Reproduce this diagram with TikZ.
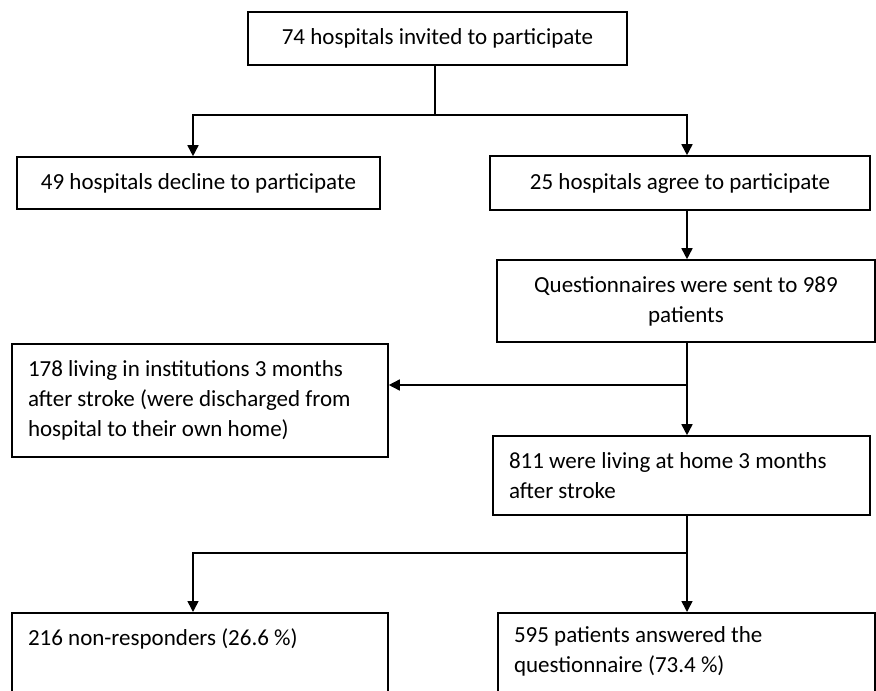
\documentclass[tikz,border=0pt]{standalone}
\usepackage{fontspec}
\setmainfont{Carlito}
\usetikzlibrary{arrows.meta}
\begin{document}
\begin{tikzpicture}[x=1pt,y=-1pt,line width=1.6pt,
    >={Triangle[length=11pt,width=11pt]},
    box/.style={draw,rectangle,inner sep=0pt,align=center,font=\fontsize{23}{30}\selectfont},
    lbox/.style={draw,rectangle,inner xsep=16pt,inner ysep=0pt,align=flush left,font=\fontsize{23}{30}\selectfont}]
    \useasboundingbox (0,0) rectangle (876,691);
    \clip (0,0) rectangle (876,691);
    % boxes
    \node[box,minimum width=379pt,minimum height=53pt] (invite) at (437.5,38.5) {74 hospitals invited to participate};
    \node[box,minimum width=363pt,minimum height=52pt] (decline) at (198.5,183) {49 hospitals decline to participate};
    \node[box,minimum width=380pt,minimum height=54pt] (agree) at (680,183) {25 hospitals agree to participate};
    \node[box,minimum width=378pt,minimum height=82pt] (sent) at (686,301) {Questionnaires were sent to 989\\patients};
    \node[lbox,text width=344pt,minimum height=113pt] (inst) at (200,400.5) {178 living in institutions 3 months\\after stroke (were discharged from\\hospital to their own home)};
    \node[lbox,text width=345pt,minimum height=79pt] (home) at (681.5,475.5) {811 were living at home 3 months\\after stroke};
    \node[lbox,text width=344pt,anchor=north,inner ysep=18pt,text height=15pt,text depth=80pt] (nonresp) at (200,612) {216 non-responders (26.6 \%)};
    \node[lbox,text width=345pt,anchor=north,inner ysep=15pt,text height=15pt,text depth=80pt] (answered) at (686.5,612) {595 patients answered the\\questionnaire (73.4 \%)};
    % branch points
    \coordinate (split1) at (435,115);
    \coordinate (split2) at (687,385);
    \coordinate (split3) at (687,553);
    \coordinate (colL) at (193,0);
    % connectors
    \draw (invite.south -| split1) -- (split1);
    \draw[->] (split1) -| (decline.north -| colL);
    \draw[->] (split1) -| (agree.north -| split2);
    \draw[->] (agree.south -| split2) -- (sent.north -| split2);
    \draw[->] (sent.south -| split2) -- (home.north -| split2);
    \draw[->] (split2) -- (inst.east |- split2);
    \draw (home.south -| split3) -- (split3);
    \draw[->] (split3) -| (nonresp.north -| colL);
    \draw[->] (split3) -- (answered.north -| split3);
\end{tikzpicture}
\end{document}
